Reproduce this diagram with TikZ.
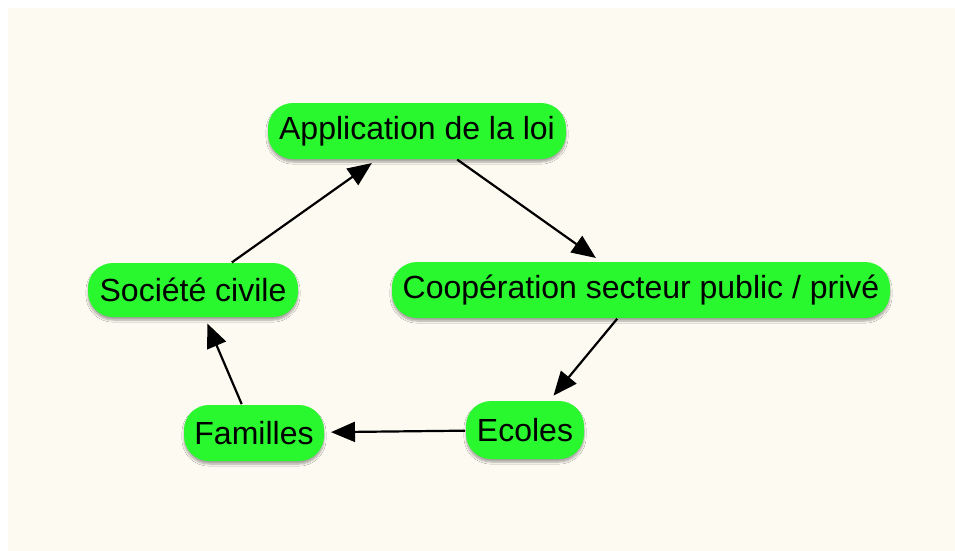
\documentclass[tikz,border=0pt]{standalone}
\usepackage{fontspec}
\setmainfont{Liberation Sans}
\usetikzlibrary{arrows.meta,shadows.blur}
\begin{document}
\begin{tikzpicture}[x=1pt,y=-1pt,
  idea/.style={fill={rgb,255:red,42;green,248;blue,46}, rounded corners=25pt, minimum height=56pt, inner xsep=8pt, outer sep=0pt, font=\fontsize{32}{36}\selectfont, blur shadow={shadow xshift=0pt, shadow yshift=-3pt, shadow blur steps=6, shadow opacity=35}},
  link/.style={-{Triangle[length=24pt,width=20pt]}, line width=2.2pt, shorten >=7pt, shorten <=1pt}]
\useasboundingbox (0,0) rectangle (955,551);
\fill[white] (0,0) rectangle (955,551);
\fill[fill={rgb,255:red,253;green,250;blue,242}] (8,8) rectangle (955,551);
\node[idea, minimum width=298pt] (loi) at (417,131) {Application de la loi};
\node[idea, minimum width=498pt] (coop) at (641,290) {Coopération secteur public / privé};
\node[idea, minimum width=210pt, minimum height=54pt] (civ) at (193,290) {Société civile};
\node[idea, minimum width=140pt] (fam) at (254,433) {Familles};
\node[idea, minimum width=118pt, minimum height=58pt] (ecol) at (525,430) {Ecoles};
\draw[link] (loi) -- (coop);
\draw[link] (coop) -- (ecol);
\draw[link] (ecol) -- (fam);
\draw[link] (fam) -- (civ);
\draw[link] (civ) -- (loi);
\end{tikzpicture}
\end{document}
